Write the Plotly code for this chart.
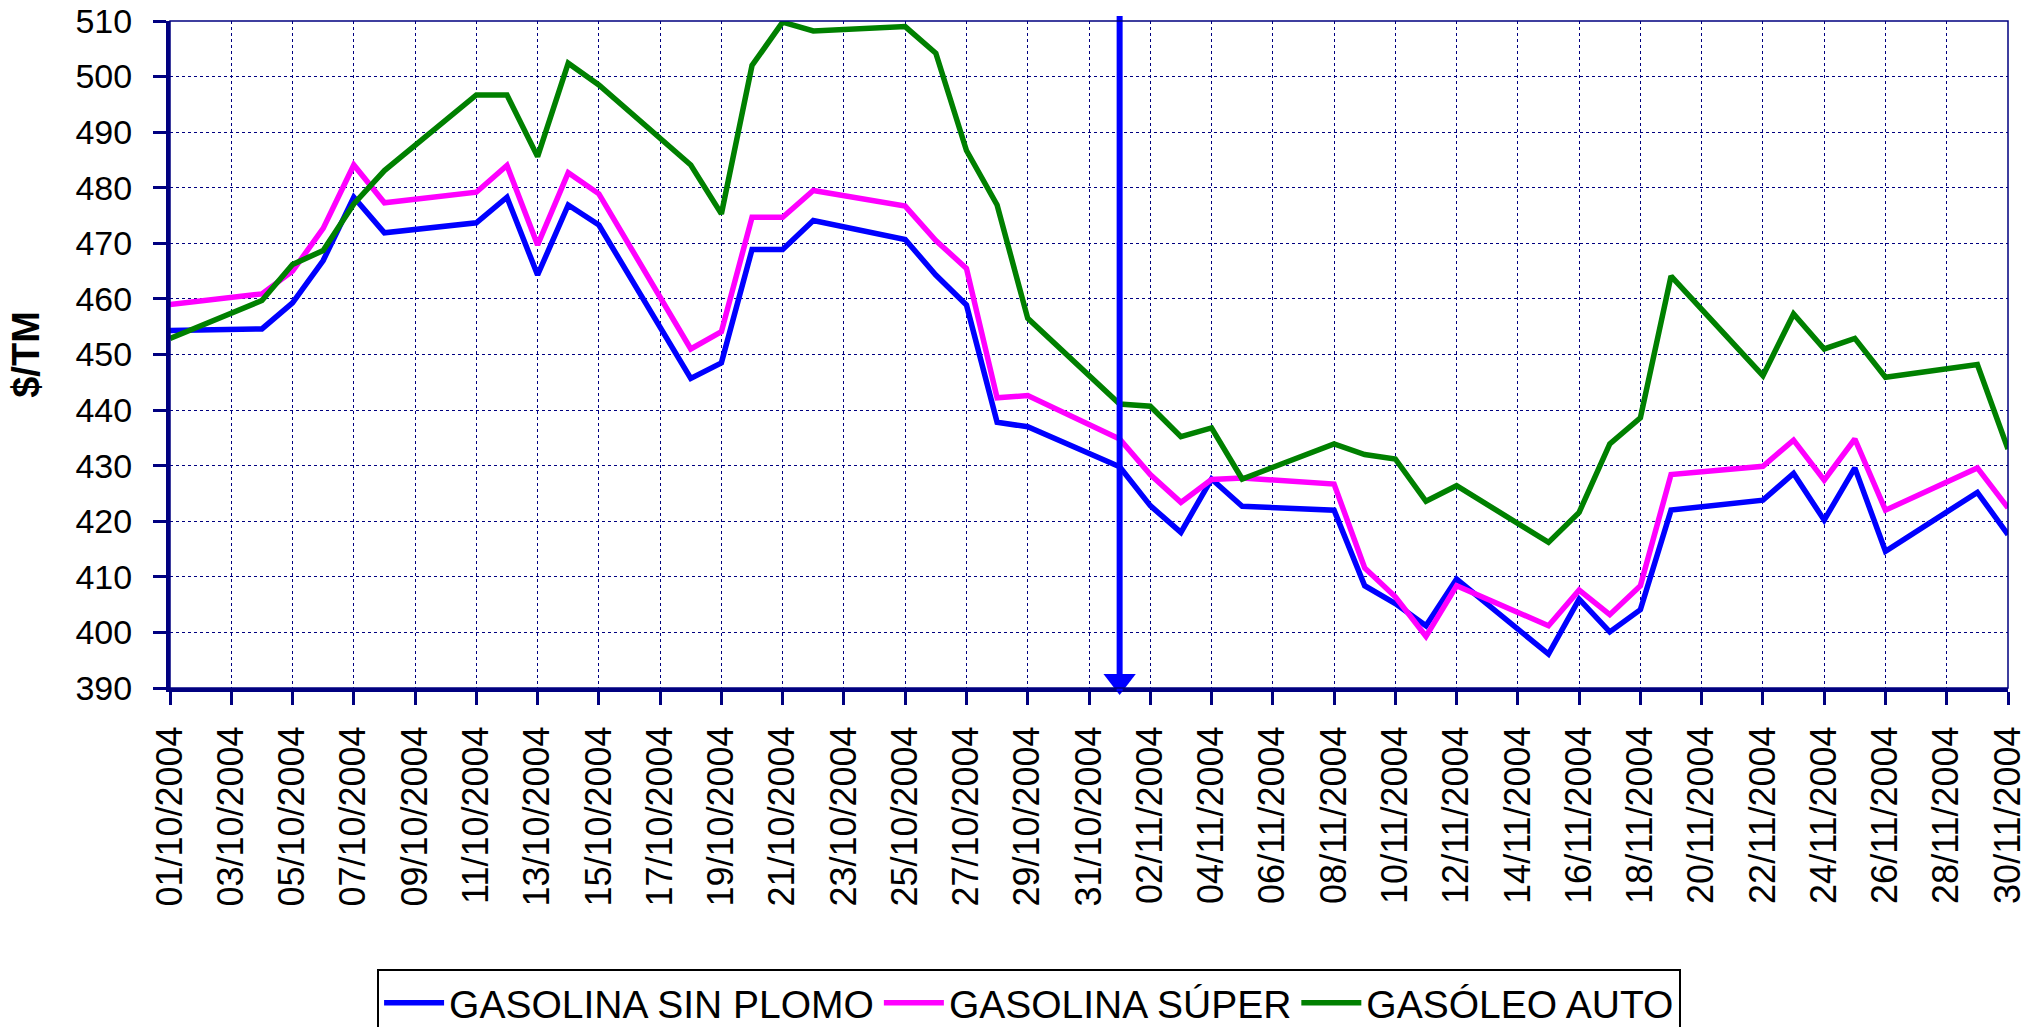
import plotly.graph_objects as go

dates = ["2004-10-01","2004-10-04","2004-10-05","2004-10-06","2004-10-07","2004-10-08",
         "2004-10-11","2004-10-12","2004-10-13","2004-10-14","2004-10-15",
         "2004-10-18","2004-10-19","2004-10-20","2004-10-21","2004-10-22",
         "2004-10-25","2004-10-26","2004-10-27","2004-10-28","2004-10-29",
         "2004-11-01","2004-11-02","2004-11-03","2004-11-04","2004-11-05",
         "2004-11-08","2004-11-09","2004-11-10","2004-11-11","2004-11-12",
         "2004-11-15","2004-11-16","2004-11-17","2004-11-18","2004-11-19",
         "2004-11-22","2004-11-23","2004-11-24","2004-11-25","2004-11-26",
         "2004-11-29","2004-11-30"]

sin_plomo = [454.3,454.6,459.3,466.9,478.3,471.9,
             473.7,478.3,464.3,476.9,473.3,
             445.7,448.5,468.9,468.9,474.1,
             470.7,464.3,458.9,437.8,437.0,
             429.8,422.8,418.0,427.6,422.7,
             422.0,408.4,405.2,401.2,409.6,
             396.1,406.0,400.1,404.1,422.0,
             423.8,428.6,420.2,429.6,414.6,
             425.2,417.6]

super_ = [459.0,460.9,465.0,472.7,484.1,477.3,
          479.2,484.0,469.7,482.7,478.9,
          451.0,454.1,474.7,474.7,479.5,
          476.7,470.5,465.5,442.2,442.6,
          434.8,428.4,423.4,427.5,427.8,
          426.7,411.6,406.4,399.3,408.4,
          401.2,407.6,403.2,408.4,428.4,
          429.9,434.6,427.4,434.8,422.0,
          429.6,422.4]

gasoleo = [452.9,459.7,466.2,468.7,477.1,483.1,
           496.7,496.7,485.6,502.4,498.5,
           484.1,475.3,502.0,509.8,508.2,
           509.0,504.2,486.7,476.9,456.5,
           441.1,440.7,435.2,436.8,427.6,
           433.9,432.0,431.2,423.6,426.4,
           416.2,421.6,433.9,438.6,464.1,
           446.2,457.3,451.0,452.9,445.9,
           448.2,433.0]

series_names = ["GASOLINA SIN PLOMO", "GASOLINA SÚPER", "GASÓLEO AUTO"]
series_colors = ["#0000FF", "#FF00FF", "#008000"]
marker_date = "2004-11-01"
y_min, y_max = 390, 510

FONT = "Liberation Sans, Arial, sans-serif"
NAVY = "#000080"

fig = go.Figure()
for name, vals, col in zip(series_names, [sin_plomo, super_, gasoleo], series_colors):
    fig.add_trace(go.Scatter(x=dates, y=vals, mode="lines", name=name,
                             line=dict(color=col, width=5.5)))

# vertical arrow marking 01/11/2004
fig.add_shape(type="line", xref="x", yref="paper", x0=marker_date, x1=marker_date,
              y0=1.0075, y1=-0.005, line=dict(color="#0000FF", width=6), layer="above")
fig.add_trace(go.Scatter(x=[marker_date], y=[y_min + 1.26], mode="markers",
                         marker=dict(symbol="triangle-down", size=28, color="#0000FF",
                                     line=dict(width=0)),
                         showlegend=False, cliponaxis=False, hoverinfo="skip"))

fig.add_shape(type="rect", xref="paper", yref="paper", x0=0, x1=1, y0=0, y1=1,
              line=dict(color=NAVY, width=1.5), layer="above")

fig.update_layout(
    width=2044, height=1027,
    margin=dict(l=170, r=36, t=21, b=339, autoexpand=False),
    paper_bgcolor="white", plot_bgcolor="white",
    font=dict(family=FONT, color="black", size=34),
    showlegend=True,
    legend=dict(orientation="h", x=0.4674, xanchor="center", y=-0.421, yanchor="top",
                bordercolor="black", borderwidth=2, font=dict(size=39, family=FONT),
                bgcolor="white", itemwidth=60, tracegroupgap=0),
)

fig.update_xaxes(type="date", range=["2004-10-01", "2004-11-30"],
                 tick0="2004-10-01", dtick=2 * 86400000, tickformat="%d/%m/%Y",
                 tickangle=-90, tickfont=dict(size=36, family=FONT),
                 ticklabelstandoff=7, ticklabeloverflow="allow",
                 showgrid=True, gridcolor=NAVY, gridwidth=1, griddash="dot",
                 showline=True, linecolor=NAVY, linewidth=4,
                 ticks="outside", ticklen=13, tickwidth=3, tickcolor=NAVY,
                 zeroline=False)
fig.update_yaxes(range=[y_min, y_max], dtick=10, tick0=390,
                 tickfont=dict(size=34, family=FONT),
                 ticklabelstandoff=14, ticklabeloverflow="allow",
                 showgrid=True, gridcolor=NAVY, gridwidth=1, griddash="dot",
                 showline=True, linecolor=NAVY, linewidth=4,
                 ticks="outside", ticklen=13, tickwidth=3, tickcolor=NAVY,
                 zeroline=False,
                 title=dict(text="<b>$/TM</b>", font=dict(size=38, family=FONT), standoff=25))

fig.write_html("out.html", config={"displayModeBar": False},
               post_script="document.body.style.margin='0';document.body.style.overflow='hidden';")
